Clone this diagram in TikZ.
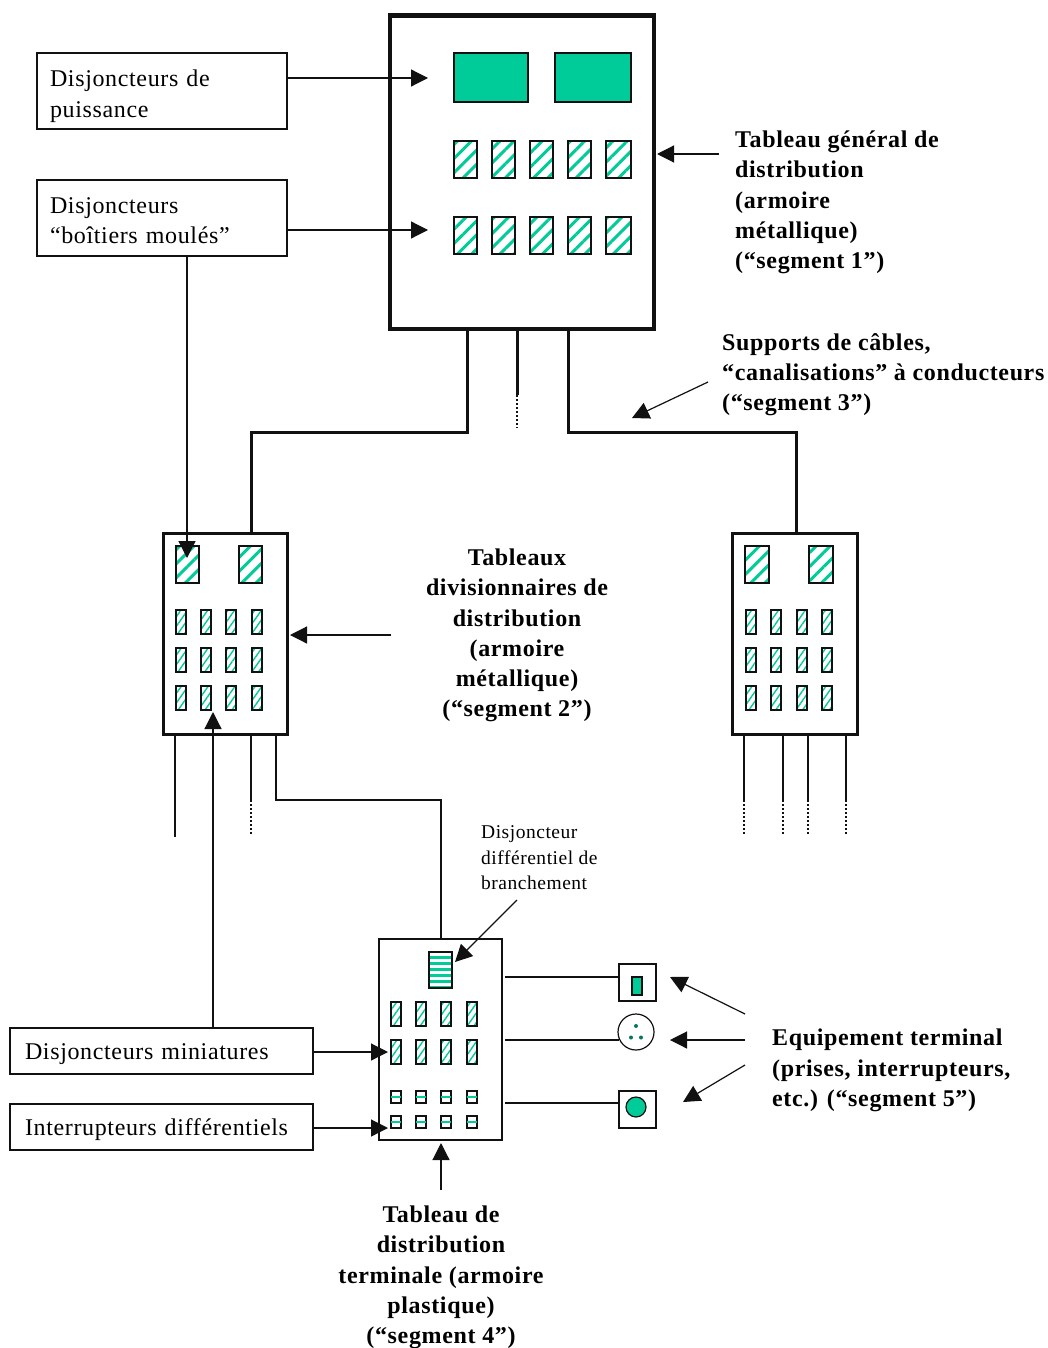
\documentclass[tikz,border=0pt]{standalone}
\usepackage{fontspec}
\setmainfont{Liberation Serif}[LetterSpace=2.7]
\usetikzlibrary{arrows.meta,patterns.meta}
\definecolor{brk}{HTML}{00CC99}
\definecolor{ink}{HTML}{111111}
\newcommand{\topgap}[1]{\rule{0pt}{#1pt}}
\tikzset{
  x=1pt,y=-1pt,
  sz/.style 2 args={minimum width=#1pt,minimum height=#2pt},
  base/.style={inner sep=0pt,outer sep=0pt,anchor=north west,draw=ink},
  board/.style={base,fill=white,line width=#1},
  solidb/.style={base,fill=brk,line width=1.2pt},
  hatchbig/.style={base,line width=1.2pt,pattern={Lines[angle=45,distance=10pt,line width=3pt]},pattern color=brk},
  hatchsmall/.style={base,line width=1.2pt,pattern={Lines[angle=55,distance=5.5pt,line width=1.4pt]},pattern color=brk},
  hatchflat/.style={base,line width=1.2pt,pattern={Lines[angle=0,distance=6pt,line width=3pt]},pattern color=brk},
  sq/.style={base,line width=1.2pt,minimum width=10pt,minimum height=12pt},
  labelbox/.style={base,line width=1.1pt,align=left,inner xsep=13pt,text width=224pt,font=\fontsize{24}{30.3}\selectfont},
  longbox/.style={labelbox,inner xsep=15pt,text width=273pt},
  boldl/.style={inner sep=0pt,font=\fontsize{24}{30.3}\selectfont\bfseries},
  small/.style={inner sep=0pt,font=\fontsize{19.5}{25.4}\selectfont},
  arr/.style={draw=ink,line width=1.2pt,-{Triangle[length=17pt,width=17pt]}},
  wire/.style={draw=ink,line width=1.4pt},
  feeder/.style={draw=ink,line width=3pt,line join=miter},
  stub/.style={draw=ink,line width=3pt},
  dots/.style={draw=ink,line width=1.2pt,dash pattern=on 1.5pt off 2.5pt},
}
\begin{document}
\begin{tikzpicture}
\useasboundingbox[fill=white] (0,0) rectangle (1047,1348);
% main board
\node[board=4.6pt,sz={264}{313.5}] (main) at (390,15.5) {};
\node[solidb,sz={74}{49}] (pa) at (454,53) {};
\node[solidb,sz={76}{49}] (pb) at (555,53) {};
\foreach \n/\x/\w in {1/454/23,2/492/23,3/530/23,4/568/23,5/606/25}{
  \node[hatchbig,sz={\w}{37}] (ra\n) at (\x,141) {};
  \node[hatchbig,sz={\w}{37}] (rb\n) at (\x,217) {};
}
% left labels
\node[labelbox,sz={250}{76}] (lp) at (37,53) {\topgap{27}Disjoncteurs de\\puissance};
\node[labelbox,sz={250}{76}] (lm) at (37,180) {\topgap{21}Disjoncteurs\\“boîtiers moulés”};
\coordinate (lps) at (287,78);\coordinate (lpe) at (428,78);
\coordinate (lms) at (287,230);\coordinate (lme) at (428,230);
\draw[arr] (lps) -- (lpe);
\draw[arr] (lms) -- (lme);
% main label
\node[boldl,anchor=west,align=left] (tg) at (735,202.5) {Tableau général de\\distribution\\(armoire\\métallique)\\(“segment 1”)};
\coordinate (tgs) at (719,154);\coordinate (tge) at (657,154);
\draw[arr] (tgs) -- (tge);
% segment 3
\node[boldl,anchor=west,align=left] (sc) at (722,374.5) {Supports de câbles,\\“canalisations” à conducteurs\\(“segment 3”)};
\coordinate (scs) at (708,382);\coordinate (sce) at (632,418);
\draw[arr] (scs) -- (sce);
% division boards
\node[board=3pt,sz={124}{201}] (dl) at (163,533) {};
\node[board=3pt,sz={125}{201}] (dr) at (732,533) {};
\node[hatchbig,sz={23}{37}] (dlb1) at (176,546) {};
\node[hatchbig,sz={23}{37}] (dlb2) at (239,546) {};
\node[hatchbig,sz={24}{37}] (drb1) at (745,546) {};
\node[hatchbig,sz={24}{37}] (drb2) at (809,546) {};
\foreach \r/\y in {1/610,2/648,3/686}{
  \foreach \c/\x in {1/176,2/201,3/226,4/252}{
    \node[hatchsmall,sz={10}{24}] (dls\r\c) at (\x,\y) {};
  }
  \foreach \c/\x in {1/746,2/771,3/797,4/822}{
    \node[hatchsmall,sz={10}{24}] (drs\r\c) at (\x,\y) {};
  }
}
% feeders from main
\coordinate (m1) at (467,331);\coordinate (m1b) at (467,432);\coordinate (d1) at (251,432);\coordinate (d1b) at (251,533);
\coordinate (m2) at (517,331);\coordinate (m2b) at (517,395);\coordinate (m2c) at (517,428);
\coordinate (m3) at (568,331);\coordinate (m3b) at (568,432);\coordinate (d3) at (796,432);\coordinate (d3b) at (796,533);
\draw[feeder] (m1) -- (m1b) -- (d1) -- (d1b);
\draw[feeder] (m3) -- (m3b) -- (d3) -- (d3b);
\draw[stub] (m2) -- (m2b);
\draw[dots] (m2b) -- (m2c);
% div label
\node[boldl,align=center] (td) at (517,635.5) {Tableaux\\divisionnaires de\\distribution\\(armoire\\métallique)\\(“segment 2”)};
\coordinate (tds) at (391,635);\coordinate (tde) at (290,635);
\draw[arr] (tds) -- (tde);
% moulded breaker arrow
\coordinate (lmd) at (187,256);\coordinate (lme2) at (187,558);
\draw[arr] (lmd) -- (lme2);
% outputs left
\coordinate (o1) at (175,735);\coordinate (o1e) at (175,837);
\coordinate (o2) at (251,735);\coordinate (o2b) at (251,800);\coordinate (o2c) at (251,835);
\coordinate (o3) at (276,735);\coordinate (o3b) at (276,800);\coordinate (o3c) at (441,800);\coordinate (o3d) at (441,939);
\draw[wire] (o1) -- (o1e);
\draw[wire] (o2) -- (o2b);\draw[dots] (o2b) -- (o2c);
\draw[wire] (o3) -- (o3b) -- (o3c) -- (o3d);
% outputs right
\foreach \i/\x in {1/744,2/783,3/808,4/846}{
  \coordinate (q\i) at (\x,735);\coordinate (q\i b) at (\x,800);\coordinate (q\i c) at (\x,835);
  \draw[wire] (q\i) -- (q\i b);
  \draw[dots] (q\i b) -- (q\i c);
}
% terminal board
\node[board=2pt,sz={123}{201}] (tb) at (379,939) {};
\node[hatchflat,sz={23}{36}] (df) at (429,952) {};
\foreach \c/\x in {1/391,2/416,3/441,4/467}{
  \node[hatchsmall,sz={10}{24}] (ta\c) at (\x,1002) {};
  \node[hatchsmall,sz={10}{24}] (tc\c) at (\x,1040) {};
  \node[sq] (te\c) at (\x,1091) {};
  \node[sq] (tf\c) at (\x,1116) {};
  \draw[brk,line width=1.2pt] (te\c.west) -- (te\c.east);
  \draw[brk,line width=1.2pt] (tf\c.west) -- (tf\c.east);
}
% differential label
\node[small,anchor=west,align=left] (dl2) at (481,858) {Disjoncteur\\différentiel de\\branchement};
\coordinate (dfs) at (517,900);\coordinate (dfe) at (455,962);
\draw[arr] (dfs) -- (dfe);
% terminal equipment
\node[base,line width=1.2pt,sz={37}{37}] (s1) at (619,964) {};
\node[solidb,sz={10}{18}] (s1i) at (632,977) {};
\node[draw=ink,circle,inner sep=0pt,line width=1.2pt,minimum size=36pt] (s2) at (636,1032) {};
\foreach \i/\dx/\dy in {1/0/-6,2/-5/5.5,3/5/5.5}{
  \fill[brk!60!black] (636+\dx,1032+\dy) circle (2pt);
}
\node[base,line width=1.2pt,sz={37}{37}] (s3) at (619,1091) {};
\node[draw=ink,fill=brk,circle,inner sep=0pt,line width=1.2pt,minimum size=20pt] (s3i) at (636,1107) {};
\coordinate (t1) at (505,977);\coordinate (e1) at (619,977);
\coordinate (t2) at (505,1040);\coordinate (e2) at (619,1040);
\coordinate (t3) at (505,1103);\coordinate (e3) at (619,1103);
\draw[wire] (t1) -- (e1);
\draw[wire] (t2) -- (e2);
\draw[wire] (t3) -- (e3);
\node[boldl,anchor=west,align=left] (eq) at (772,1070.5) {Equipement terminal\\(prises, interrupteurs,\\etc.) (“segment 5”)};
\coordinate (a1) at (745,1014);\coordinate (a1e) at (670,977);
\coordinate (a2) at (745,1040);\coordinate (a2e) at (670,1040);
\coordinate (a3) at (745,1065);\coordinate (a3e) at (683,1102);
\draw[arr] (a1) -- (a1e);
\draw[arr] (a2) -- (a2e);
\draw[arr] (a3) -- (a3e);
% bottom-left labels
\node[longbox,sz={303}{46}] (lmi) at (10,1028) {\topgap{22}Disjoncteurs miniatures};
\node[longbox,sz={303}{46}] (lin) at (10,1104) {\topgap{22}Interrupteurs différentiels};
\coordinate (lmis) at (313,1052);\coordinate (lmie) at (388,1052);
\coordinate (lins) at (313,1128);\coordinate (line) at (388,1128);
\draw[arr] (lmis) -- (lmie);
\draw[arr] (lins) -- (line);
\coordinate (lmu) at (213,1028);\coordinate (lmv) at (213,712);
\draw[arr] (lmu) -- (lmv);
% terminal label
\node[boldl,align=center] (tt) at (441,1277.5) {Tableau de\\distribution\\terminale (armoire\\plastique)\\(“segment 4”)};
\coordinate (tts) at (441,1190);\coordinate (tte) at (441,1143);
\draw[arr] (tts) -- (tte);
\end{tikzpicture}
\end{document}
